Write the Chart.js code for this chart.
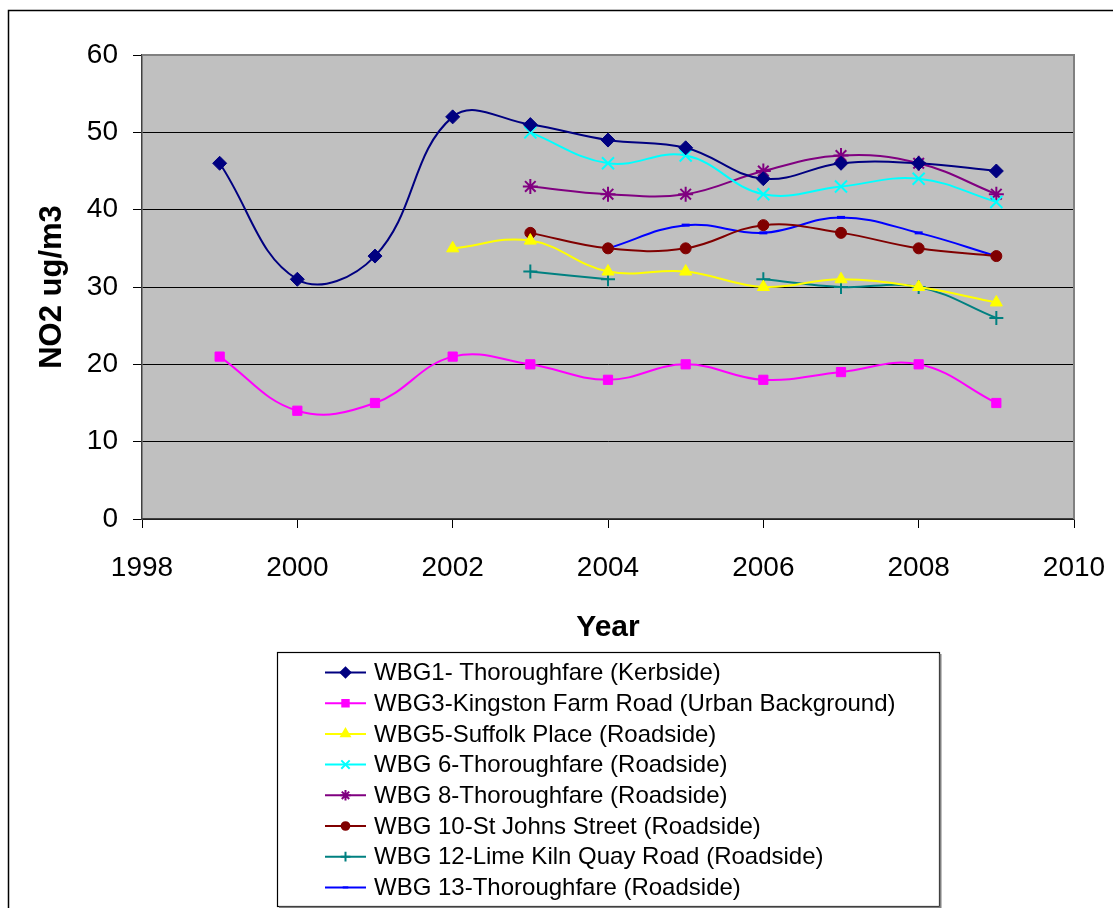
<!DOCTYPE html>
<html>
<head>
<meta charset="utf-8">
<script src="https://cdn.jsdelivr.net/npm/chart.js@4/dist/chart.umd.min.js"></script>
<style>
  html, body { margin: 0; padding: 0; background: #fff; }
</style>
</head>
<body>
<canvas id="no2Chart" width="1113" height="908"></canvas>
<script>
// annual mean NO2 (ug/m3) per monitoring site, null = no reading that year
const years = [1999, 2000, 2001, 2002, 2003, 2004, 2005, 2006, 2007, 2008, 2009];
const yearTicks = [1998, 2000, 2002, 2004, 2006, 2008, 2010];

const wbg1  = [46, 31, 34, 52, 51, 49, 48, 44, 46, 46, 45];
const wbg3  = [21, 14, 15, 21, 20, 18, 20, 18, 19, 20, 15];
const wbg5  = [null, null, null, 35, 36, 32, 32, 30, 31, 30, 28];
const wbg6  = [null, null, null, null, 50, 46, 47, 42, 43, 44, 41];
const wbg8  = [null, null, null, null, 43, 42, 42, 45, 47, 46, 42];
const wbg10 = [null, null, null, null, 37, 35, 35, 38, 37, 35, 34];
const wbg12 = [null, null, null, null, 32, 31, null, 31, 30, 30, 26];
const wbg13 = [null, null, null, null, null, 35, 38, 37, 39, 37, 34];

const FONT = '"Liberation Sans", Arial, sans-serif';

function series(label, values, color, pointStyle, radius, borderWidth) {
    return {
        label: label,
        data: years.map((yr, i) => ({ x: yr, y: values[i] })),
        borderColor: color,
        backgroundColor: color,
        pointBackgroundColor: color,
        pointBorderColor: color,
        pointStyle: pointStyle,
        pointRadius: radius,
        pointBorderWidth: borderWidth,
        borderWidth: 2,
        tension: 0.4,
        spanGaps: false
    };
}

const datasets = [
    series('WBG1- Thoroughfare (Kerbside)', wbg1, '#000080', 'rectRot', 7, 1),
    series('WBG3-Kingston Farm Road (Urban Background)', wbg3, '#FF00FF', 'rect', 6.5, 1),
    series('WBG5-Suffolk Place (Roadside)', wbg5, '#FFFF00', 'triangle', 7, 1),
    series('WBG 6-Thoroughfare (Roadside)', wbg6, '#00FFFF', 'crossRot', 8.5, 2),
    series('WBG 8-Thoroughfare (Roadside)', wbg8, '#800080', 'star', 7.5, 2),
    series('WBG 10-St Johns Street (Roadside)', wbg10, '#800000', 'circle', 5.5, 1),
    series('WBG 12-Lime Kiln Quay Road (Roadside)', wbg12, '#008080', 'cross', 7, 2),
    series('WBG 13-Thoroughfare (Roadside)', wbg13, '#0000FF', 'line', 4, 3)
];

// white page, outer frame and grey plot background
const backdrop = {
    id: 'backdrop',
    beforeDraw(chart) {
        const { ctx, chartArea: a } = chart;
        ctx.save();
        ctx.fillStyle = '#fff';
        ctx.fillRect(0, 0, chart.width, chart.height);
        ctx.strokeStyle = '#000';
        ctx.lineWidth = 1.5;
        ctx.beginPath();
        ctx.moveTo(8.5, chart.height);
        ctx.lineTo(8.5, 10.5);
        ctx.lineTo(chart.width, 10.5);
        ctx.stroke();
        ctx.fillStyle = '#C0C0C0';
        ctx.fillRect(a.left, a.top, a.right - a.left, a.bottom - a.top);
        ctx.restore();
    },
    beforeDatasetsDraw(chart) {
        const { ctx, chartArea: a } = chart;
        ctx.save();
        ctx.strokeStyle = '#808080';
        ctx.lineWidth = 2;
        ctx.beginPath();
        ctx.moveTo(a.left, a.top);
        ctx.lineTo(a.right, a.top);
        ctx.lineTo(a.right, a.bottom);
        ctx.stroke();
        ctx.restore();
    }
};

// legend stacked one entry per row inside a box under the axis title
const boxedLegend = {
    id: 'boxedLegend',
    afterDraw(chart) {
        const { ctx, chartArea: a } = chart;
        const sets = chart.data.datasets;
        ctx.save();
        ctx.font = '24px ' + FONT;
        const textW = Math.max(...sets.map(d => ctx.measureText(d.label).width));
        const padL = 48, sample = 41, gap = 8, padR = 43, rowH = 30.7;
        const w = Math.round(padL + sample + gap + textW + padR);
        const h = 254;
        const left = Math.round((a.left + a.right) / 2 - w / 2);
        const top = Math.round(a.bottom + 133);

        ctx.strokeStyle = '#000';
        ctx.lineWidth = 1.2;
        ctx.strokeRect(left + 0.5, top + 0.5, w, h);
        ctx.strokeStyle = '#808080';
        ctx.lineWidth = 2;
        ctx.beginPath();
        ctx.moveTo(left + w + 1.5, top + 2);
        ctx.lineTo(left + w + 1.5, top + h + 1.5);
        ctx.lineTo(left + 2, top + h + 1.5);
        ctx.stroke();

        sets.forEach((d, i) => {
            const y = top + 20.5 + i * rowH;
            const x0 = left + padL;
            ctx.strokeStyle = d.borderColor;
            ctx.fillStyle = d.borderColor;
            ctx.lineWidth = 2;
            ctx.beginPath();
            ctx.moveTo(x0, y);
            ctx.lineTo(x0 + sample, y);
            ctx.stroke();
            if (Chart.helpers && Chart.helpers.drawPoint) {
                Chart.helpers.drawPoint(ctx, {
                    pointStyle: d.pointStyle,
                    radius: d.pointRadius * 0.7,
                    borderWidth: d.pointBorderWidth,
                    rotation: 0
                }, x0 + sample / 2, y);
            }
            ctx.fillStyle = '#000';
            ctx.textBaseline = 'middle';
            ctx.textAlign = 'left';
            ctx.fillText(d.label, x0 + sample + gap, y + 1);
        });
        ctx.restore();
    }
};

const ctx = document.getElementById('no2Chart').getContext('2d');
const no2Chart = new Chart(ctx, {
    type: 'line',
    data: { datasets: datasets },
    plugins: [backdrop, boxedLegend],
    options: {
        responsive: false,
        animation: false,
        layout: { padding: { top: 55, right: 39, bottom: 261, left: 0 } },
        plugins: {
            legend: { display: false },
            tooltip: { enabled: false }
        },
        scales: {
            x: {
                type: 'linear',
                min: 1998,
                max: 2010,
                afterBuildTicks: scale => {
                    scale.ticks = yearTicks.map(v => ({ value: v }));
                },
                afterFit: scale => {
                    scale.height = 128;
                    scale.paddingLeft = 32;
                    scale.paddingRight = 32;
                },
                grid: { drawOnChartArea: false, tickLength: 9, tickColor: '#000', tickWidth: 1 },
                border: { color: '#404040', width: 1.5 },
                ticks: {
                    padding: 23,
                    color: '#000',
                    maxRotation: 0,
                    autoSkip: false,
                    font: { family: FONT, size: 28 },
                    callback: v => String(v)
                },
                title: {
                    display: true,
                    text: 'Year',
                    color: '#000',
                    font: { family: FONT, size: 30, weight: 'bold' },
                    padding: { top: 0, bottom: 1 }
                }
            },
            y: {
                min: 0,
                max: 60,
                afterFit: scale => { scale.width = 142; },
                grid: { color: '#000', lineWidth: 1, tickLength: 9, tickColor: '#000' },
                border: { color: '#404040', width: 1.5 },
                ticks: {
                    stepSize: 10,
                    padding: 15,
                    color: '#000',
                    font: { family: FONT, size: 28 }
                },
                title: {
                    display: true,
                    text: 'NO2 ug/m3',
                    color: '#000',
                    font: { family: FONT, size: 31, weight: 'bold' },
                    padding: { top: 34, bottom: 0 }
                }
            }
        }
    }
});
</script>
</body>
</html>
